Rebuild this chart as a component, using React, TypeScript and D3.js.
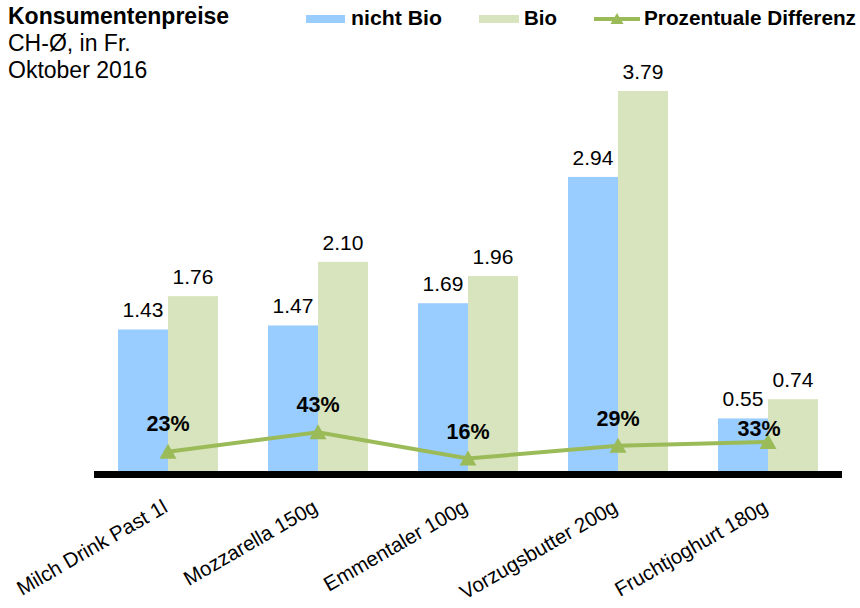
import React from 'react';
import * as d3 from 'd3';

const categories = ['Milch Drink Past 1l', 'Mozzarella 150g', 'Emmentaler 100g', 'Vorzugsbutter 200g', 'Fruchtjoghurt 180g'];
const nichtBio = [1.43, 1.47, 1.69, 2.94, 0.55];
const bio = [1.76, 2.10, 1.96, 3.79, 0.74];
const diffPct = [23, 43, 16, 29, 33];
const seriesNames = ['nicht Bio', 'Bio', 'Prozentuale Differenz'];
const titleLines = ['Konsumentenpreise', 'CH-Ø, in Fr.', 'Oktober 2016'];

// label nudges (styling only)
const pctLabelDx = [0, 0, 0, 0, -9];
const pctLabelDy = [-21, -20, -19, -20, -6];

const W = 860;
const H = 608;
const FONT = '"Liberation Sans", Arial, Helvetica, sans-serif';
const BLUE = '#99CCFF';
const GREEN = '#D7E4BD';
const LINE = '#9BBB59';

export default function App() {
  const x = d3.scaleBand<string>().domain(categories).range([93, 843]).paddingInner(1 / 3).paddingOuter(1 / 6);
  const xs = d3.scaleBand<number>().domain([0, 1]).range([0, x.bandwidth()]);
  const y = d3.scaleLinear().domain([0, 4]).range([474, 474 - 4 * 101.05]);
  const yp = d3.scaleLinear().domain([0, 100]).range([474, 377]);
  const cx = (c: string) => (x(c) as number) + x.bandwidth() / 2;
  const series = [nichtBio, bio];
  const colors = [BLUE, GREEN];

  const lineGen = d3.line<number>()
    .x((_, i) => cx(categories[i]))
    .y((v) => yp(v));
  const tri = 'M0,-8L8.5,7L-8.5,7Z';
  const triSmall = 'M0,-6L6.5,5L-6.5,5Z';

  return (
    <svg width={W} height={H} style={{ position: 'absolute', left: 0, top: 0, display: 'block' }} fontFamily={FONT}>
      <rect x={0} y={0} width={W} height={H} fill="#fff" />
      {/* title */}
      <text x={8} y={24} fontSize={23} fontWeight="bold" fill="#000">{titleLines[0]}</text>
      <text x={8} y={51} fontSize={23} fill="#000">{titleLines[1]}</text>
      <text x={8} y={78} fontSize={23} fill="#000">{titleLines[2]}</text>

      {/* legend */}
      <rect x={306} y={15} width={39} height={8} fill={BLUE} />
      <text x={351} y={25} fontSize={21} fontWeight="bold" textLength={91} lengthAdjust="spacingAndGlyphs">{seriesNames[0]}</text>
      <rect x={479} y={15} width={40} height={8} fill={GREEN} />
      <text x={524} y={25} fontSize={21} fontWeight="bold" textLength={33} lengthAdjust="spacingAndGlyphs">{seriesNames[1]}</text>
      <line x1={594} x2={640} y1={19} y2={19} stroke={LINE} strokeWidth={4} />
      <path d={triSmall} transform="translate(617,19)" fill={LINE} />
      <text x={644} y={25} fontSize={21} fontWeight="bold" textLength={212} lengthAdjust="spacingAndGlyphs">{seriesNames[2]}</text>

      {/* bars */}
      {series.map((vals, si) =>
        vals.map((v, i) => {
          const c = categories[i];
          const bx = (x(c) as number) + (xs(si) as number);
          return (
            <g key={`b${si}-${i}`}>
              <rect x={bx} y={y(v)} width={xs.bandwidth()} height={y(0) - y(v)} fill={colors[si]} />
              <text x={bx + xs.bandwidth() / 2} y={y(v) - 12} fontSize={21} textAnchor="middle" fill="#000">
                {v.toFixed(2)}
              </text>
            </g>
          );
        })
      )}

      {/* axis baseline */}
      <rect x={94} y={471} width={748} height={7} fill="#000" />

      {/* line series */}
      <path d={lineGen(diffPct) || ''} fill="none" stroke={LINE} strokeWidth={4} />
      {diffPct.map((v, i) => (
        <path key={`m${i}`} d={tri} transform={`translate(${cx(categories[i])},${yp(v)})`} fill={LINE} />
      ))}
      {diffPct.map((v, i) => (
        <text key={`p${i}`} x={cx(categories[i]) + pctLabelDx[i]} y={yp(v) + pctLabelDy[i]} fontSize={21.5} fontWeight="bold" textAnchor="middle" fill="#000">
          {`${v}%`}
        </text>
      ))}

      {/* category labels */}
      {categories.map((c) => (
        <text key={c} transform={`translate(${cx(c) + 1},511) rotate(-30)`} fontSize={20.5} textAnchor="end" fill="#000">
          {c}
        </text>
      ))}
    </svg>
  );
}
